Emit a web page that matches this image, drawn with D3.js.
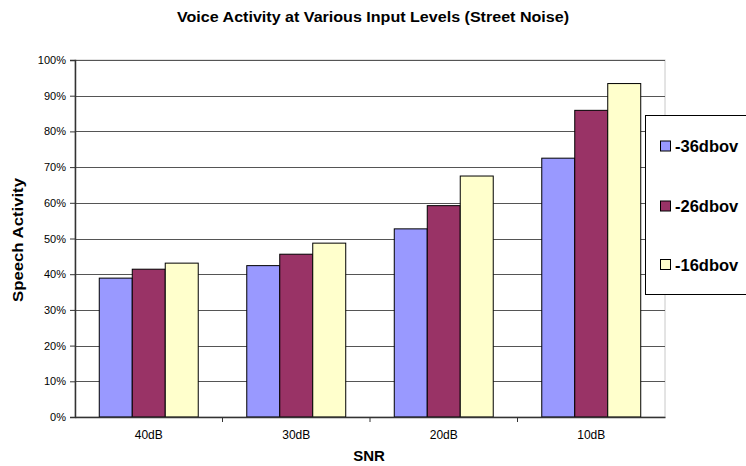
<!DOCTYPE html>
<html>
<head>
<meta charset="utf-8">
<script src="https://cdn.jsdelivr.net/npm/d3@7"></script>
<style>
  html, body { margin: 0; padding: 0; background: #fff; }
  svg { display: block; font-family: "Liberation Sans", Arial, sans-serif; }
</style>
</head>
<body>
<svg id="chart" width="746" height="466"></svg>
<script>
// Categories (SNR levels) and speech-activity share per input level
const categories = ["40dB", "30dB", "20dB", "10dB"];
const seriesNames = ["-36dbov", "-26dbov", "-16dbov"];
const seriesColors = ["#9999ff", "#993366", "#ffffcc"];
const values36 = [0.389, 0.424, 0.527, 0.725];
const values26 = [0.414, 0.456, 0.592, 0.859];
const values16 = [0.431, 0.487, 0.675, 0.934];
const yTicks = [0, 0.1, 0.2, 0.3, 0.4, 0.5, 0.6, 0.7, 0.8, 0.9, 1.0];

const seriesValues = [values36, values26, values16];

const svg = d3.select("#chart");
const plot = { left: 75, right: 665, top: 60, bottom: 417 };

const x0 = d3.scaleBand().domain(categories).range([plot.left, plot.right]).paddingInner(0.329).paddingOuter(0.1645);
const x1 = d3.scaleBand().domain(seriesNames).range([0, x0.bandwidth()]);
const xCat = d3.scaleBand().domain(categories).range([plot.left, plot.right]);
const y = d3.scaleLinear().domain([0, 1]).range([plot.bottom, plot.top]);

// plot area border (light)
svg.append("rect")
  .attr("x", plot.left).attr("y", plot.top)
  .attr("width", plot.right - plot.left).attr("height", plot.bottom - plot.top)
  .attr("fill", "none").attr("stroke", "#c8c8c8").attr("stroke-width", 1);

// gridlines
svg.append("g")
  .selectAll("line")
  .data(yTicks.filter(d => d > 0))
  .join("line")
  .attr("x1", plot.left).attr("x2", plot.right)
  .attr("y1", d => Math.round(y(d)) + 0.5).attr("y2", d => Math.round(y(d)) + 0.5)
  .attr("stroke", "#555").attr("stroke-width", 1);

// bars
const groups = svg.append("g")
  .selectAll("g")
  .data(categories)
  .join("g")
  .attr("transform", c => `translate(${x0(c)},0)`);

groups.selectAll("rect")
  .data((c, i) => seriesNames.map((s, j) => ({ s, j, v: seriesValues[j][i] })))
  .join("rect")
  .attr("x", d => x1(d.s))
  .attr("width", x1.bandwidth())
  .attr("y", d => y(d.v))
  .attr("height", d => plot.bottom - y(d.v))
  .attr("fill", d => seriesColors[d.j])
  .attr("stroke", "#000")
  .attr("stroke-width", 1);

// y axis
const yAxis = svg.append("g")
  .attr("transform", `translate(${plot.left},0)`)
  .call(d3.axisLeft(y).tickValues(yTicks).tickFormat(d3.format(".0%")).tickSizeOuter(0).tickSize(5));
yAxis.select(".domain").attr("stroke", "#333").attr("stroke-width", 1.5);
yAxis.selectAll(".tick line").attr("stroke", "#333");
yAxis.selectAll("text").attr("font-size", 11).attr("fill", "#000")
  .attr("font-family", "Liberation Sans, Arial, sans-serif").attr("x", -9);

// x axis with tick marks between categories
const xAxis = svg.append("g")
  .attr("transform", `translate(0,${plot.bottom})`)
  .call(d3.axisBottom(xCat).tickSize(0).tickSizeOuter(0));
xAxis.select(".domain").attr("stroke", "#333").attr("stroke-width", 1.5);
xAxis.selectAll("text").attr("font-size", 12).attr("fill", "#000")
  .attr("font-family", "Liberation Sans, Arial, sans-serif").attr("dy", "1.6em");
xAxis.selectAll(".sep")
  .data(categories.slice(1))
  .join("line")
  .attr("class", "sep")
  .attr("x1", c => xCat(c)).attr("x2", c => xCat(c))
  .attr("y1", 0).attr("y2", 5)
  .attr("stroke", "#333");

// title
svg.append("text")
  .attr("x", 373).attr("y", 22)
  .attr("text-anchor", "middle")
  .attr("font-size", 14).attr("font-weight", "bold")
  .attr("textLength", 392).attr("lengthAdjust", "spacingAndGlyphs")
  .text("Voice Activity at Various Input Levels (Street Noise)");

// axis titles
svg.append("text")
  .attr("transform", "translate(23,240) rotate(-90)")
  .attr("text-anchor", "middle")
  .attr("font-size", 15).attr("font-weight", "bold")
  .attr("textLength", 124).attr("lengthAdjust", "spacingAndGlyphs")
  .text("Speech Activity");

svg.append("text")
  .attr("x", 369).attr("y", 461)
  .attr("text-anchor", "middle")
  .attr("font-size", 15).attr("font-weight", "bold")
  .text("SNR");

// legend
const legend = svg.append("g");
legend.append("rect")
  .attr("x", 645.5).attr("y", 115.5)
  .attr("width", 120).attr("height", 179)
  .attr("fill", "#fff").attr("stroke", "#000").attr("stroke-width", 1);

const legendY = [146.5, 206.5, 265];
const items = legend.selectAll("g.item")
  .data(seriesNames)
  .join("g")
  .attr("class", "item")
  .attr("transform", (d, i) => `translate(660,${legendY[i]})`);
items.append("rect")
  .attr("x", 0.5).attr("y", -5.5)
  .attr("width", 10).attr("height", 10)
  .attr("fill", (d, i) => seriesColors[i])
  .attr("stroke", "#000");
items.append("text")
  .attr("x", 15).attr("y", 0)
  .attr("dy", "0.36em")
  .attr("font-size", 16.5).attr("font-weight", "bold")
  .text(d => d);
</script>
</body>
</html>
